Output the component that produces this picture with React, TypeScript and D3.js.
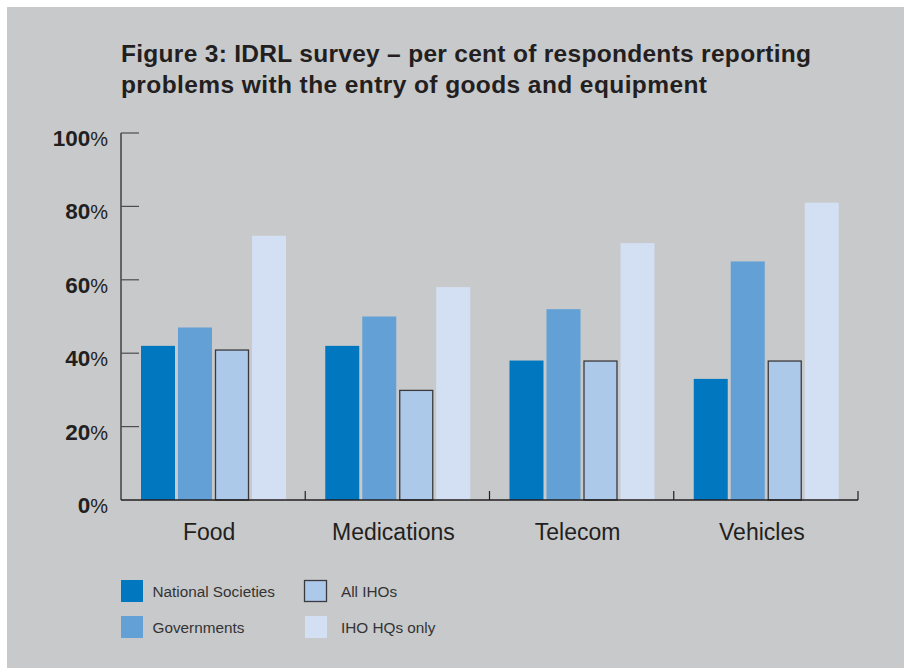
import { useEffect, useRef } from "react";
import * as d3 from "d3";

const categories = ["Food", "Medications", "Telecom", "Vehicles"];
const seriesNames = ["National Societies", "Governments", "All IHOs", "IHO HQs only"];
const nationalSocieties = [42, 42, 38, 33];
const governments = [47, 50, 52, 65];
const allIHOs = [41, 30, 38, 38];
const ihoHQsOnly = [72, 58, 70, 81];
const yTicks = [0, 20, 40, 60, 80, 100];

const seriesValues = [nationalSocieties, governments, allIHOs, ihoHQsOnly];
const colors = ["#0077be", "#63a0d6", "#adc9ea", "#d3e0f3"];
const outlined = [false, false, true, false];

export default function App() {
  const svgRef = useRef<SVGSVGElement>(null);

  useEffect(() => {
    if (!svgRef.current) return;
    const svg = d3.select(svgRef.current);
    svg.selectAll("*").remove();

    const W = 904, H = 668;
    const font = "'Liberation Sans', Arial, Helvetica, sans-serif";
    const textColor = "#231f20";

    svg.append("rect").attr("width", W).attr("height", H).attr("fill", "#fff");
    svg.append("rect").attr("x", 7).attr("y", 7).attr("width", W - 7).attr("height", H - 7).attr("fill", "#c8c9cb");

    // Title
    const title = svg.append("text")
      .attr("font-family", font)
      .attr("font-weight", "bold")
      .attr("font-size", 24.5)
      .attr("fill", textColor);
    title.append("tspan").attr("x", 121).attr("y", 61.5)
      .attr("textLength", 690).attr("lengthAdjust", "spacing")
      .text("Figure 3: IDRL survey – per cent of respondents reporting");
    title.append("tspan").attr("x", 121).attr("y", 93)
      .attr("textLength", 586).attr("lengthAdjust", "spacing")
      .text("problems with the entry of goods and equipment");

    const left = 121, right = 858, top = 133, bottom = 500;

    const x = d3.scaleBand<string>().domain(categories).range([left, right]).paddingInner(0).paddingOuter(0);
    const y = d3.scaleLinear().domain([0, 100]).range([bottom, top]);

    const barW = 34, gap = 3, inset = 20;

    const g = svg.append("g");

    categories.forEach((c, ci) => {
      const x0 = (x(c) ?? 0) + inset;
      seriesValues.forEach((vals, si) => {
        const bx = x0 + si * (barW + gap);
        const v = vals[ci];
        g.append("rect")
          .attr("x", outlined[si] ? bx + 0.5 : bx)
          .attr("y", outlined[si] ? y(v) + 0.5 : y(v))
          .attr("width", outlined[si] ? barW - 1 : barW)
          .attr("height", y(0) - y(v) - (outlined[si] ? 0.5 : 0))
          .attr("fill", colors[si])
          .attr("stroke", outlined[si] ? "#3a3a3c" : "none")
          .attr("stroke-width", outlined[si] ? 1.3 : 0);
      });
    });

    // Y axis line and ticks
    const axisColor = "#231f20";
    g.append("line")
      .attr("x1", left).attr("x2", left)
      .attr("y1", top).attr("y2", bottom)
      .attr("stroke", axisColor).attr("stroke-width", 1.2);
    yTicks.forEach(t => {
      if (t > 0) {
        g.append("line")
          .attr("x1", left).attr("x2", left + 18)
          .attr("y1", y(t)).attr("y2", y(t))
          .attr("stroke", "#4d4d4f").attr("stroke-width", 1.2);
      }
      const lbl = g.append("text")
        .attr("x", 108)
        .attr("y", y(t) + 13)
        .attr("text-anchor", "end")
        .attr("font-family", font)
        .attr("font-size", 22.5)
        .attr("fill", textColor);
      lbl.append("tspan").attr("font-weight", "bold").text(String(t));
      lbl.append("tspan").attr("font-size", 20).text("%");
    });

    // X axis line and separators
    g.append("line")
      .attr("x1", left).attr("x2", right)
      .attr("y1", bottom).attr("y2", bottom)
      .attr("stroke", axisColor).attr("stroke-width", 1.4);
    categories.forEach((c, ci) => {
      if (ci === 0) return;
      const sx = x(c) ?? 0;
      g.append("line")
        .attr("x1", sx).attr("x2", sx)
        .attr("y1", bottom).attr("y2", bottom - 9)
        .attr("stroke", axisColor).attr("stroke-width", 1.2);
    });
    g.append("line")
      .attr("x1", right).attr("x2", right)
      .attr("y1", bottom).attr("y2", bottom - 9)
      .attr("stroke", axisColor).attr("stroke-width", 1.2);

    // Category labels
    categories.forEach(c => {
      g.append("text")
        .attr("x", (x(c) ?? 0) + x.bandwidth() / 2 - 4)
        .attr("y", 540)
        .attr("text-anchor", "middle")
        .attr("font-family", font)
        .attr("font-size", 23)
        .attr("fill", textColor)
        .text(c);
    });

    // Legend
    const legendPos = [
      { x: 121, y: 580 },
      { x: 121, y: 616 },
      { x: 304, y: 580 },
      { x: 305, y: 616 },
    ];
    seriesNames.forEach((name, si) => {
      const p = legendPos[si];
      g.append("rect")
        .attr("x", outlined[si] ? p.x + 0.5 : p.x)
        .attr("y", outlined[si] ? p.y + 0.5 : p.y)
        .attr("width", 22)
        .attr("height", outlined[si] ? 21 : 22)
        .attr("fill", colors[si])
        .attr("stroke", outlined[si] ? "#3a3a3c" : "none")
        .attr("stroke-width", 1.3);
      g.append("text")
        .attr("x", si < 2 ? p.x + 31.5 : 341)
        .attr("y", p.y + 17)
        .attr("font-family", font)
        .attr("font-size", 15.3)
        .attr("fill", "#333")
        .text(name);
    });
  }, []);

  return (
    <svg
      ref={svgRef}
      width={904}
      height={668}
      style={{ position: "absolute", left: 0, top: 0, display: "block" }}
    />
  );
}
